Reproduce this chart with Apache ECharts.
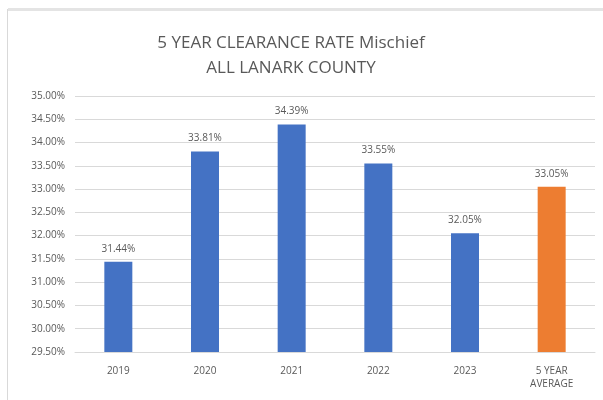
<!DOCTYPE html>
<html lang="en">
<head>
<meta charset="UTF-8">
<title>5 Year Clearance Rate Mischief</title>
<script src="https://cdn.jsdelivr.net/npm/echarts@6/dist/echarts.min.js"></script>
<style>
  html, body { margin: 0; padding: 0; background: #fff; }
  #main { width: 603px; height: 400px; }
</style>
</head>
<body>
<div id="main"></div>
<script type="text/javascript">
    var categories = ['2019', '2020', '2021', '2022', '2023', '5 YEAR\nAVERAGE'];
    var rates = [31.44, 33.81, 34.39, 33.55, 32.05, 33.05];
    var barColors = ['#4472C4', '#4472C4', '#4472C4', '#4472C4', '#4472C4', '#ED7D31'];

    var chart = echarts.init(document.getElementById('main'));
    var font = 'Open Sans, Liberation Sans, sans-serif';

    var option = {
        backgroundColor: '#fff',
        animation: false,
        graphic: [
            { type: 'rect', shape: { x: 8, y: 8, width: 595, height: 3 }, style: { fill: '#e4e4e4' } },
            { type: 'rect', shape: { x: 7, y: 9, width: 1, height: 391 }, style: { fill: '#d9d9d9' } }
        ],
        title: {
            text: '5 YEAR CLEARANCE RATE Mischief\nALL LANARK COUNTY',
            left: 286,
            textAlign: 'center',
            top: 26,
            textStyle: {
                fontFamily: font,
                fontSize: 17,
                fontWeight: 'normal',
                color: '#595959',
                lineHeight: 25
            }
        },
        grid: { left: 75, right: 8, top: 96, bottom: 48 },
        xAxis: {
            type: 'category',
            data: categories,
            axisLine: { lineStyle: { color: '#d9d9d9' } },
            axisTick: { show: false },
            axisLabel: {
                color: '#595959',
                fontFamily: font,
                fontSize: 10,
                margin: 13,
                lineHeight: 13
            }
        },
        yAxis: {
            type: 'value',
            min: 29.5,
            max: 35,
            interval: 0.5,
            axisLine: { show: false },
            axisTick: { show: false },
            splitLine: { lineStyle: { color: '#d9d9d9' } },
            axisLabel: {
                color: '#595959',
                fontFamily: font,
                fontSize: 10,
                margin: 10,
                formatter: function (v) { return v.toFixed(2) + '%'; }
            }
        },
        series: [{
            type: 'bar',
            data: rates.map(function (v, i) {
                return { value: v, itemStyle: { color: barColors[i] } };
            }),
            barWidth: 28,
            label: {
                show: true,
                position: 'top',
                distance: 8,
                color: '#595959',
                fontFamily: font,
                fontSize: 10,
                formatter: function (p) { return p.value.toFixed(2) + '%'; }
            }
        }]
    };

    chart.setOption(option);
</script>
</body>
</html>
